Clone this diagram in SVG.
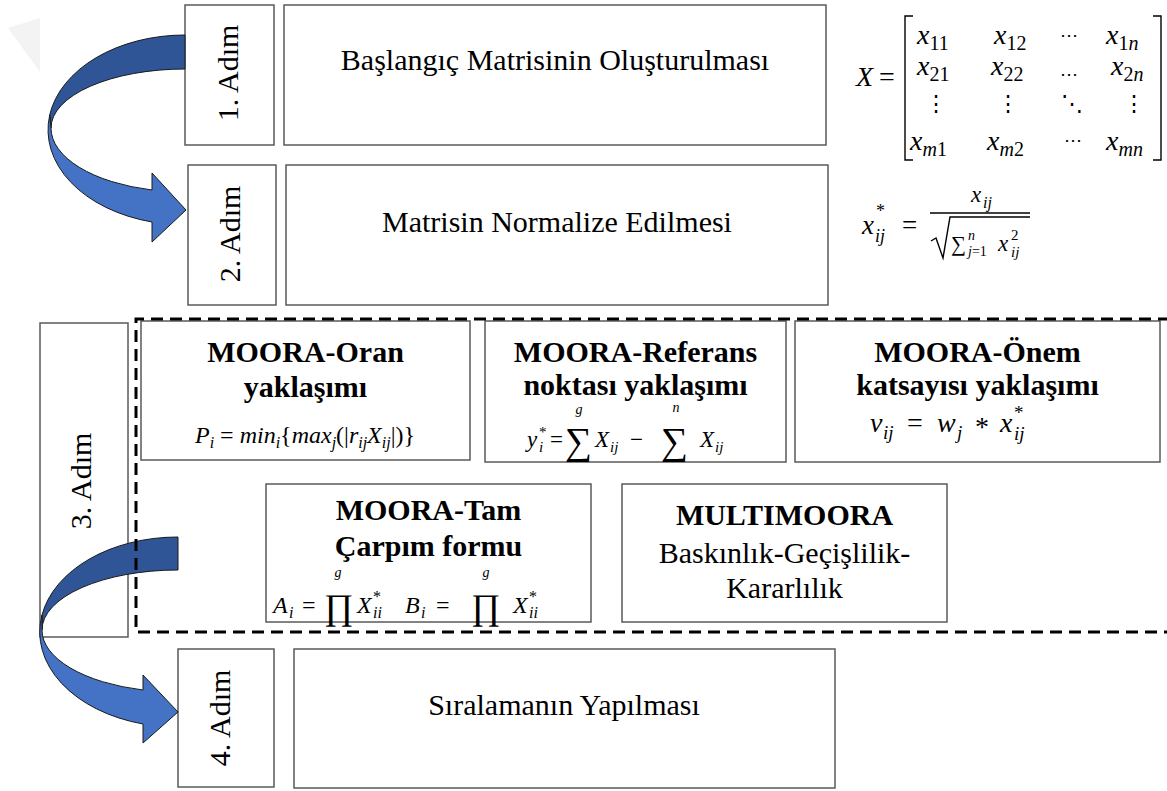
<svg xmlns="http://www.w3.org/2000/svg" width="1167" height="791" viewBox="0 0 1167 791" font-family="Liberation Serif, serif">
  <defs>
    <style>
      .box{fill:#fff;stroke:#5a5a5a;stroke-width:1.5}
      .t{font-size:30px;fill:#000;text-anchor:middle}
      .b{font-weight:bold}
      .m{font-style:italic;fill:#000}
      .u{font-style:normal;fill:#000}
      .dash{fill:none;stroke:#000;stroke-width:3;stroke-dasharray:12 7}
      .rule{fill:none;stroke:#000;stroke-width:1.4}
      .dark{fill:#2f5597;stroke:#1a1a1a;stroke-width:1}
      .light{fill:#4472c4;stroke:#1a1a1a;stroke-width:1}
    </style>
  </defs>
  <rect width="1167" height="791" fill="#fff"/>
  <!-- faint corner mark -->
  <polygon points="8,28 40,18 40,72" fill="#f3f3f3"/>

  <!-- step 1 -->
  <g id="step1-label">
    <rect class="box" x="185" y="5" width="89" height="140"/>
    <text class="t" font-family="Liberation Serif" transform="translate(238,73) rotate(-90)">1. Adım</text>
  </g>
  <g id="step1">
    <rect class="box" x="284" y="5" width="542" height="140"/>
    <text class="t" font-family="Liberation Serif" x="555" y="70">Başlangıç Matrisinin Oluşturulması</text>
  </g>

  <!-- step 2 -->
  <g id="step2-label">
    <rect class="box" x="188" y="165" width="88" height="140"/>
    <text class="t" font-family="Liberation Serif" transform="translate(240,234) rotate(-90)">2. Adım</text>
  </g>
  <g id="step2">
    <rect class="box" x="286" y="165" width="542" height="140"/>
    <text class="t" font-family="Liberation Serif" x="557" y="232">Matrisin Normalize Edilmesi</text>
  </g>

  <!-- step 3 -->
  <g id="step3-label">
    <rect class="box" x="40" y="323" width="88" height="314"/>
    <text class="t" font-family="Liberation Serif" transform="translate(91,481) rotate(-90)">3. Adım</text>
  </g>

  <g id="moora-oran" font-family="Liberation Serif">
    <rect class="box" x="141" y="321" width="329" height="139"/>
    <text class="t b" x="305.5" y="362">MOORA-Oran</text>
    <text class="t b" x="305.5" y="397">yaklaşımı</text>
    <text class="m" x="305" y="443" font-size="24" text-anchor="middle">P<tspan font-size="16" baseline-shift="-5">i</tspan> <tspan class="u">=</tspan> min<tspan font-size="16" baseline-shift="-5">i</tspan><tspan class="u">{</tspan>max<tspan font-size="16" baseline-shift="-5">j</tspan><tspan class="u">(|</tspan>r<tspan font-size="16" baseline-shift="-5">ij</tspan>X<tspan font-size="16" baseline-shift="-5">ij</tspan><tspan class="u">|)}</tspan></text>
  </g>

  <g id="moora-referans" font-family="Liberation Serif">
    <rect class="box" x="485" y="321" width="301" height="141"/>
    <text class="t b" x="635.5" y="362">MOORA-Referans</text>
    <text class="t b" x="635.5" y="395">noktası yaklaşımı</text>
    <text class="m" x="527" y="447" font-size="23">y</text>
    <text class="u" x="539" y="437" font-size="15">*</text>
    <text class="m" x="539" y="452" font-size="15">i</text>
    <text class="u" x="550" y="447" font-size="23">=</text>
    <text class="u" x="565" y="454" font-size="38">∑</text>
    <text class="m" x="579" y="414" font-size="14" text-anchor="middle">g</text>
    <text class="m" x="595" y="447" font-size="23">X</text>
    <text class="m" x="610" y="452" font-size="15">ij</text>
    <text class="u" x="630" y="447" font-size="23">−</text>
    <text class="u" x="661" y="454" font-size="38">∑</text>
    <text class="m" x="676" y="412" font-size="14" text-anchor="middle">n</text>
    <text class="m" x="700" y="447" font-size="23">X</text>
    <text class="m" x="715" y="452" font-size="15">ij</text>
  </g>

  <g id="moora-onem" font-family="Liberation Serif">
    <rect class="box" x="795" y="321" width="365" height="141"/>
    <text class="t b" x="977.5" y="362">MOORA-Önem</text>
    <text class="t b" x="977.5" y="395">katsayısı yaklaşımı</text>
    <text class="m" x="870" y="432" font-size="28">v</text>
    <text class="m" x="883" y="439" font-size="19">ij</text>
    <text class="u" x="907" y="432" font-size="28">=</text>
    <text class="m" x="937" y="432" font-size="28">w</text>
    <text class="m" x="957" y="439" font-size="19">j</text>
    <text class="u" x="975" y="436" font-size="28">*</text>
    <text class="m" x="1000" y="432" font-size="28">x</text>
    <text class="u" x="1014" y="419" font-size="19">*</text>
    <text class="m" x="1014" y="440" font-size="19">ij</text>
  </g>

  <g id="moora-tam" font-family="Liberation Serif">
    <rect class="box" x="266" y="484" width="325" height="138"/>
    <text class="t b" x="428.5" y="520">MOORA-Tam</text>
    <text class="t b" x="428.5" y="556">Çarpım formu</text>
    <text class="m" x="273" y="613" font-size="24">A</text>
    <text class="m" x="289" y="618" font-size="16">i</text>
    <text class="u" x="302" y="613" font-size="24">=</text>
    <text class="u" x="324" y="619" font-size="36">∏</text>
    <text class="m" x="338" y="577" font-size="14" text-anchor="middle">g</text>
    <text class="m" x="357" y="613" font-size="24">X</text>
    <text class="u" x="373" y="602" font-size="16">*</text>
    <text class="m" x="373" y="618" font-size="16">ii</text>
    <text class="m" x="405" y="613" font-size="24">B</text>
    <text class="m" x="421" y="618" font-size="16">i</text>
    <text class="u" x="436" y="613" font-size="24">=</text>
    <text class="u" x="471" y="619" font-size="36">∏</text>
    <text class="m" x="486" y="577" font-size="14" text-anchor="middle">g</text>
    <text class="m" x="513" y="613" font-size="24">X</text>
    <text class="u" x="529" y="602" font-size="16">*</text>
    <text class="m" x="529" y="618" font-size="16">ii</text>
  </g>

  <g id="multimoora" font-family="Liberation Serif">
    <rect class="box" x="622" y="484" width="325" height="138"/>
    <text class="t b" x="784.5" y="525">MULTIMOORA</text>
    <text class="t" x="784.5" y="563">Baskınlık-Geçişlilik-</text>
    <text class="t" x="784.5" y="598">Kararlılık</text>
  </g>

  <!-- step 4 -->
  <g id="step4-label">
    <rect class="box" x="178" y="649" width="96" height="138"/>
    <text class="t" font-family="Liberation Serif" transform="translate(230,718) rotate(-90)">4. Adım</text>
  </g>
  <g id="step4">
    <rect class="box" x="294" y="649" width="541" height="139"/>
    <text class="t" font-family="Liberation Serif" x="564" y="715">Sıralamanın Yapılması</text>
  </g>

  <!-- initial decision matrix -->
  <g id="matrix" font-family="Liberation Serif">
    <text class="m" x="856" y="86" font-size="28">X</text>
    <text class="u" x="879" y="86" font-size="28">=</text>
    <path class="rule" d="M913,16 H905 V160 H913 M1153,16 H1161 V160 H1153"/>
    <text class="m" font-size="28" x="917" y="44">x<tspan class="u" font-size="20" dy="6">11</tspan></text>
    <text class="m" font-size="28" x="994" y="44">x<tspan class="u" font-size="20" dy="6">12</tspan></text>
    <text class="u" font-family="DejaVu Serif" font-size="18" x="1060" y="41">⋯</text>
    <text class="m" font-size="28" x="1106" y="44">x<tspan class="u" font-size="20" dy="6">1</tspan><tspan font-size="20">n</tspan></text>
    <text class="m" font-size="28" x="917" y="75">x<tspan class="u" font-size="20" dy="6">21</tspan></text>
    <text class="m" font-size="28" x="991" y="75">x<tspan class="u" font-size="20" dy="6">22</tspan></text>
    <text class="u" font-family="DejaVu Serif" font-size="18" x="1060" y="80">⋯</text>
    <text class="m" font-size="28" x="1111" y="75">x<tspan class="u" font-size="20" dy="6">2</tspan><tspan font-size="20">n</tspan></text>
    <text class="u" font-family="DejaVu Serif" font-size="22" x="936" y="111" text-anchor="middle">⋮</text>
    <text class="u" font-family="DejaVu Serif" font-size="22" x="1008" y="111" text-anchor="middle">⋮</text>
    <text class="u" font-family="DejaVu Serif" font-size="22" x="1072" y="111" text-anchor="middle">⋱</text>
    <text class="u" font-family="DejaVu Serif" font-size="22" x="1134" y="111" text-anchor="middle">⋮</text>
    <text class="m" font-size="28" x="910" y="150">x<tspan font-size="20" dy="6">m</tspan><tspan class="u" font-size="20">1</tspan></text>
    <text class="m" font-size="28" x="987" y="150">x<tspan font-size="20" dy="6">m</tspan><tspan class="u" font-size="20">2</tspan></text>
    <text class="u" font-family="DejaVu Serif" font-size="18" x="1064" y="146">⋯</text>
    <text class="m" font-size="28" x="1106" y="150">x<tspan font-size="20" dy="6">mn</tspan></text>
  </g>

  <!-- vector normalisation -->
  <g id="normalization" font-family="Liberation Serif">
    <text class="m" x="862" y="234" font-size="27">x</text>
    <text class="u" x="876" y="217" font-size="18">*</text>
    <text class="m" x="875" y="242" font-size="18">ij</text>
    <text class="u" x="902" y="234" font-size="27">=</text>
    <text class="m" x="971" y="202" font-size="23">x</text>
    <text class="m" x="983" y="208" font-size="16">ij</text>
    <path class="rule" d="M930,213 H1030"/>
    <path class="rule" d="M931,241 L936,238 L943,258 L950,217 H1030"/>
    <text class="u" x="951" y="251" font-size="21">∑</text>
    <text class="m" x="968" y="240" font-size="14">n</text>
    <text class="m" x="968" y="256" font-size="14">j<tspan class="u">=1</tspan></text>
    <text class="m" x="998" y="251" font-size="23">x</text>
    <text class="u" x="1011" y="240" font-size="15">2</text>
    <text class="m" x="1011" y="257" font-size="15">ij</text>
  </g>

  <!-- curved step arrows and step-3 frame -->
  <g id="connectors">
    <path class="dark" d="M185,35 A137,95 0 0 0 49.7,115 L51,128 A134,59 0 0 1 185,69 Z"/>
    <path class="light" d="M49.7,115 A137,95 0 0 0 152,222 L152,242 L186,210 L152,173 L152,190 A134,64 0 0 1 51,128 Z"/>
    <path class="dark" d="M178,537 A138,95 0 0 0 42,615 L42,630 A136,60 0 0 1 178,570 Z"/>
    <path class="light" d="M42,615 A138,95 0 0 0 143,724 L143,743 L178,712 L143,675 L143,690 A136,62 0 0 1 42,630 Z"/>
    <path class="dash" d="M1170,319 H136 V632 H1170"/>
  </g>
</svg>
